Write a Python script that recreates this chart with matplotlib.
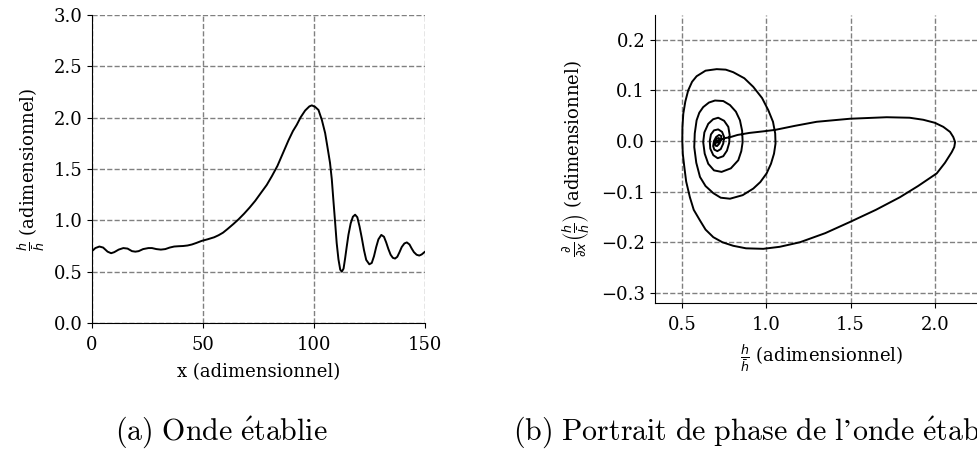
import matplotlib
matplotlib.use("Agg")
import matplotlib.pyplot as plt
import numpy as np

# (a) established wave
x_pos = [0, 1.5, 3.3, 5, 7, 8.6, 10, 12, 14.1, 16, 18, 19.5, 21, 23, 25.4, 27, 29, 31,
         33, 35, 37, 39, 41, 43, 45, 47, 49.4, 52, 55, 57, 59, 61, 63.7, 66, 68.5, 71,
         73.5, 76, 78.7, 81, 83.5, 86.2, 88.5, 90.5, 92.2, 94, 96, 97.9, 99, 100.5, 102,
         103.5, 105, 106, 107.2, 108, 108.7, 109.5, 110.2, 111, 111.8, 112.5, 113.3, 114,
         114.7, 115.5, 116.5, 117.5, 118.5, 119.5, 120.5, 121.5, 122.5, 123.5, 124.9, 126,
         127, 128, 129, 130.3, 131.5, 132.5, 133.5, 134.5, 135.5, 136.5, 137.5, 138.5,
         139.5, 140.7, 141.8, 143, 144, 145, 146.2, 147.4, 148.5, 150]
h_wave = [0.70, 0.73, 0.745, 0.735, 0.695, 0.68, 0.69, 0.715, 0.73, 0.725, 0.70, 0.695,
          0.70, 0.72, 0.73, 0.73, 0.72, 0.715, 0.72, 0.735, 0.745, 0.748, 0.75, 0.755,
          0.765, 0.78, 0.80, 0.815, 0.835, 0.855, 0.88, 0.915, 0.965, 1.01, 1.065, 1.125,
          1.19, 1.265, 1.345, 1.43, 1.53, 1.665, 1.78, 1.87, 1.93, 2.005, 2.07, 2.11, 2.12,
          2.105, 2.075, 1.98, 1.85, 1.72, 1.56, 1.40, 1.20, 0.98, 0.78, 0.62, 0.52, 0.50,
          0.53, 0.63, 0.74, 0.86, 0.97, 1.035, 1.055, 1.03, 0.94, 0.83, 0.71, 0.615, 0.572,
          0.585, 0.65, 0.74, 0.815, 0.858, 0.84, 0.785, 0.72, 0.665, 0.635, 0.628, 0.645,
          0.69, 0.74, 0.775, 0.785, 0.765, 0.725, 0.69, 0.665, 0.657, 0.668, 0.695]

# (b) phase portrait (h/hbar and its x-derivative)
h_phase = [0.715, 0.73, 0.76, 0.79, 0.83, 0.90, 0.98, 1.053, 1.17, 1.299, 1.496, 1.714,
           1.85, 1.931, 2.00, 2.05, 2.09, 2.109, 2.12,
           2.115, 2.10, 2.06, 2.011, 1.90, 1.793, 1.65, 1.496, 1.35, 1.20, 1.08, 0.982,
           0.88, 0.804, 0.74, 0.686, 0.64, 0.607, 0.57, 0.547, 0.525, 0.514, 0.505, 0.502,
           0.503, 0.508, 0.52, 0.537, 0.56, 0.587, 0.64, 0.706, 0.76, 0.804, 0.87, 0.923,
           0.975, 1.012, 1.04, 1.053, 1.055,
           1.046, 1.028, 1.002, 0.965, 0.923, 0.86, 0.785, 0.73, 0.686, 0.64, 0.607,
           0.585, 0.573,
           0.576, 0.587, 0.603, 0.626, 0.66, 0.696, 0.745, 0.785, 0.82, 0.844, 0.857, 0.86,
           0.852, 0.834, 0.79, 0.735, 0.69, 0.656, 0.635, 0.626,
           0.633, 0.656, 0.685, 0.715, 0.75, 0.775, 0.783, 0.78, 0.767, 0.745, 0.712,
           0.686, 0.668, 0.665,
           0.672, 0.69, 0.715, 0.738, 0.75, 0.745, 0.73, 0.71, 0.692, 0.685, 0.69,
           0.703, 0.72, 0.733, 0.733, 0.722, 0.708, 0.698, 0.698, 0.706, 0.718, 0.724,
           0.72, 0.712, 0.706, 0.708, 0.715]
dh_phase = [0.0, 0.003, 0.006, 0.008, 0.012, 0.016, 0.019, 0.022, 0.030, 0.038, 0.044, 0.047,
            0.046, 0.042, 0.036, 0.028, 0.018, 0.008, -0.002,
            -0.012, -0.022, -0.043, -0.064, -0.089, -0.111, -0.136, -0.160, -0.182, -0.200,
            -0.209, -0.213, -0.212, -0.207, -0.200, -0.190, -0.175, -0.157, -0.136, -0.111,
            -0.080, -0.051, -0.025, 0.001,
            0.028, 0.054, 0.078, 0.100, 0.117, 0.128, 0.139, 0.142, 0.141, 0.136, 0.124,
            0.107, 0.085, 0.061, 0.038, 0.015, -0.005,
            -0.025, -0.045, -0.064, -0.081, -0.094, -0.107, -0.114, -0.112, -0.103, -0.089,
            -0.071, -0.043, -0.012,
            0.015, 0.041, 0.056, 0.067, 0.076, 0.080, 0.079, 0.071, 0.058, 0.041, 0.020,
            -0.002,
            -0.020, -0.038, -0.054, -0.061, -0.058, -0.045, -0.025, -0.002,
            0.017, 0.034, 0.043, 0.046, 0.040, 0.028, 0.012, -0.004, -0.019, -0.030, -0.034,
            -0.028, -0.015, 0.0,
            0.013, 0.021, 0.023, 0.018, 0.008, -0.005, -0.016, -0.020, -0.017, -0.010, 0.0,
            0.008, 0.012, 0.010, 0.003, -0.005, -0.010, -0.009, -0.003, 0.004, 0.006, 0.004,
            0.0, -0.003, -0.003, 0.0, 0.0]

plt.rcParams["font.family"] = "DejaVu Serif"
plt.rcParams["font.size"] = 13
plt.rcParams["xtick.major.pad"] = 6
plt.rcParams["axes.labelpad"] = 6.5

fig = plt.figure(figsize=(9.78, 4.5), dpi=100)
ax1 = fig.add_axes([0.0941, 0.2822, 0.3405, 0.6844])
ax2 = fig.add_axes([0.6697, 0.3267, 0.3405, 0.64])

grid_kw = dict(color="gray", linestyle="--", linewidth=1.0)

ax1.plot(x_pos, h_wave, color="black", linewidth=1.4)
ax1.set_xlim(0, 150)
ax1.set_ylim(0, 3.0)
ax1.set_xticks([0, 50, 100, 150])
ax1.set_yticks(np.arange(0, 3.01, 0.5))
ax1.set_xlabel("x (adimensionnel)")
ax1.set_ylabel(r"$\frac{h}{\bar{h}}$ (adimensionnel)", labelpad=4)
ax1.grid(True, **grid_kw)

ax2.plot(h_phase, dh_phase, color="black", linewidth=1.4)
ax2.set_xlim(0.34, 2.315)
ax2.set_ylim(-0.32, 0.249)
ax2.set_xticks([0.5, 1.0, 1.5, 2.0])
ax2.set_yticks([-0.3, -0.2, -0.1, 0.0, 0.1, 0.2])
ax2.set_xlabel(r"$\frac{h}{\bar{h}}$ (adimensionnel)")
ax2.set_ylabel(r"$\frac{\partial}{\partial x}\left(\frac{h}{\bar{h}}\right)$ (adimensionnel)",
               labelpad=6)
ax2.grid(True, **grid_kw)

for ax in (ax1, ax2):
    ax.set_axisbelow(True)
    ax.spines["top"].set_visible(False)
    ax.spines["right"].set_visible(False)

# sub-captions (the second one runs off the right edge, as in the source page)
fig.text(0.226, 0.04, r"$\mathrm{(a)\ Onde\ \acute{e}tablie}$",
         math_fontfamily="cm", fontsize=21.5, ha="center", va="center")
fig.text(0.525, 0.04, r"$\mathrm{(b)\ Portrait\ de\ phase\ de\ l’onde\ \acute{e}tablie}$",
         math_fontfamily="cm", fontsize=21.5, ha="left", va="center")

fig.savefig("out.png", dpi=100)
